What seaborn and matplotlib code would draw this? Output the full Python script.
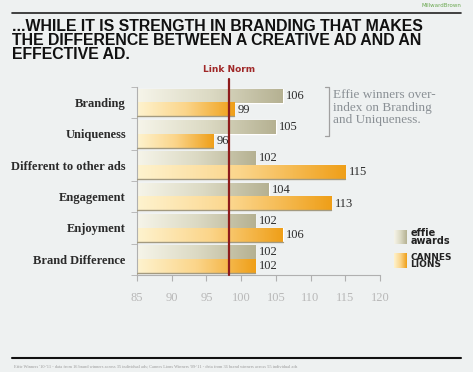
import numpy as np
import pandas as pd
import matplotlib
matplotlib.use('Agg')
import matplotlib.pyplot as plt
from matplotlib.colors import LinearSegmentedColormap
import seaborn as sns

categories = ['Branding', 'Uniqueness', 'Different to other ads', 'Engagement',
              'Enjoyment', 'Brand Difference']
effie = [106, 105, 102, 104, 102, 102]
cannes = [99, 96, 115, 113, 106, 102]
series = ['Effie', 'Cannes']
link_norm = 98.2
xticks = [85, 90, 95, 100, 105, 110, 115, 120]

title = ('...WHILE IT IS STRENGTH IN BRANDING THAT MAKES\n'
         'THE DIFFERENCE BETWEEN A CREATIVE AD AND AN\n'
         'EFFECTIVE AD.')
note = 'Effie winners over-\nindex on Branding\nand Uniqueness.'
footer = ("Effie Winners '10-'11 - data from 16 brand winners across 35 individual ads; "
          "Cannes Lions Winners '09-'11 - data from 36 brand winners across 55 individual ads")

df = pd.DataFrame({
    'category': categories * 2,
    'value': effie + cannes,
    'series': [series[0]] * len(categories) + [series[1]] * len(categories),
})

sns.set_style('white')
serif = ['Liberation Serif', 'DejaVu Serif']

fig = plt.figure(figsize=(4.73, 3.72), dpi=100)
fig.patch.set_facecolor('#eef1f1')
ax = fig.add_axes([0.2896, 0.2608, 0.5137, 0.5054])
ax.set_facecolor('none')

sns.barplot(data=df, y='category', x='value', hue='series', orient='h',
            palette=['#c9c6aa', '#f2b040'], width=0.88, legend=False, ax=ax)

# gradient fill over each bar
grey_cmap = LinearSegmentedColormap.from_list('g', ['#f6f5ea', '#dcdac4', '#b5b192'])
orange_cmap = LinearSegmentedColormap.from_list('o', ['#fef3cf', '#fbd58a', '#ef9f18'])
grad = np.linspace(0, 1, 256).reshape(1, -1)
for i, (cont, cmap, vals) in enumerate(zip(ax.containers, [grey_cmap, orange_cmap], [effie, cannes])):
    for bar, v in zip(cont.patches, vals):
        y0 = bar.get_y()
        h = bar.get_height()
        ax.imshow(grad, cmap=cmap, aspect='auto', extent=[85, v, y0 + h, y0],
                  zorder=2, interpolation='bilinear')
        if i == 1:
            # thin shadow under the lower bar of each pair
            ax.plot([85, v], [y0 + h, y0 + h], color='#a39a80', lw=1.0, zorder=3)
        ax.text(v + 0.5, y0 + h / 2, str(v), va='center', ha='left',
                fontsize=9, color='#2b2b2b', family=serif)

ax.set_xlim(85, 120)
ax.set_ylim(len(categories) - 0.5, -0.5)

# link norm line
ax.plot([link_norm, link_norm], [len(categories) - 0.5, -0.75], color='#8e1c1c',
        lw=1.6, zorder=4, clip_on=False)
ax.text(link_norm, -0.9, 'Link Norm', ha='center', va='bottom', fontsize=6.5,
        fontweight='bold', color='#a02828', family=['Liberation Sans Narrow', 'DejaVu Sans'])

# axes styling
for s in ['top', 'right']:
    ax.spines[s].set_visible(False)
ax.spines['left'].set_color('#b0b0b0')
ax.spines['bottom'].set_color('#b0b0b0')
ax.set_xticks(xticks)
ax.set_xticklabels([str(t) for t in xticks], fontsize=9, color='#b8b8b8', family=serif)
ax.tick_params(axis='x', length=4, color='#b0b0b0', pad=8, bottom=True)
ax.set_yticks(range(len(categories)))
ax.set_yticklabels(categories, fontsize=9, color='#2b2b2b', family=serif, fontweight='bold')
ax.tick_params(axis='y', length=0, pad=8)
ax.set_yticks(np.arange(-0.5, len(categories), 1), minor=True)
ax.tick_params(axis='y', which='minor', length=4, color='#b0b0b0', left=True)
ax.set_xlabel('')
ax.set_ylabel('')

# bracket and note
bx = 0.687
fig.lines.append(plt.Line2D([bx, bx + 0.008, bx + 0.008, bx], [0.766, 0.766, 0.635, 0.635],
                            color='#a0a0a0', lw=0.9, transform=fig.transFigure))
fig.text(0.705, 0.76, note, fontsize=9.5, color='#8a9095', va='top', ha='left',
         family=serif, linespacing=1.05)

# legend swatches and labels
grad_ax1 = fig.add_axes([0.832, 0.343, 0.026, 0.04])
grad_ax1.imshow(grad, cmap=grey_cmap, aspect='auto')
grad_ax1.axis('off')
grad_ax2 = fig.add_axes([0.832, 0.28, 0.026, 0.04])
grad_ax2.imshow(grad, cmap=orange_cmap, aspect='auto')
grad_ax2.axis('off')
fig.text(0.868, 0.363, 'effie\nawards', fontsize=7, fontweight='bold', color='#222222',
         va='center', ha='left', linespacing=0.8)
fig.text(0.868, 0.298, 'CANNES\nLIONS', fontsize=6.5, fontweight='bold', color='#222222',
         va='center', ha='left', linespacing=0.8)

# title, rules, logo, footer
fig.lines.append(plt.Line2D([0.025, 0.975], [0.965, 0.965], color='#222222', lw=1.2,
                            transform=fig.transFigure))
fig.text(0.026, 0.948, title, fontsize=11.4, fontweight='bold', va='top', ha='left',
         color='#111111', linespacing=0.9,
         family=['Liberation Sans', 'DejaVu Sans'])
fig.text(0.975, 0.985, 'MillwardBrown', fontsize=4, color='#6aa84f', ha='right', va='center')
fig.lines.append(plt.Line2D([0.025, 0.975], [0.038, 0.038], color='#111111', lw=1.5,
                            transform=fig.transFigure))
fig.text(0.03, 0.015, footer, fontsize=3.2, color='#9a9a9a', ha='left', va='center', family=serif)

fig.savefig('out.png', dpi=100, facecolor=fig.get_facecolor())
